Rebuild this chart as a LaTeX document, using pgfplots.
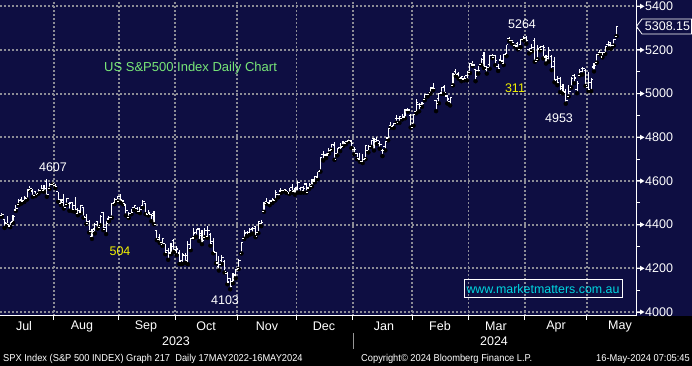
\documentclass[border=0pt]{standalone}
\usepackage{pgfplots}
\pgfplotsset{compat=1.18}
\usepackage{pgfplotstable}
\usepackage{fontspec}
\setmainfont{Liberation Sans}
\newfontfamily\narrowfont[FakeStretch=0.93]{Liberation Sans}
\definecolor{bgnavy}{RGB}{14,14,66}
\definecolor{gridgray}{RGB}{140,140,150}
\definecolor{titlegreen}{RGB}{120,230,120}
\definecolor{annyellow}{RGB}{240,240,0}
\definecolor{urlcyan}{RGB}{0,215,225}
\definecolor{sepgray}{RGB}{150,150,150}

\pgfdeclareplotmark{otick}{\pgfpathmoveto{\pgfqpoint{-\pgfplotmarksize}{0pt}}\pgfpathlineto{\pgfqpoint{0pt}{0pt}}\pgfusepathqstroke}
\pgfdeclareplotmark{ctick}{\pgfpathmoveto{\pgfqpoint{0pt}{0pt}}\pgfpathlineto{\pgfqpoint{\pgfplotmarksize}{0pt}}\pgfusepathqstroke}

\pgfplotstableread{
i o h l c
0 4422 4458 4422 4450.4
1 4450 4456 4442 4455.6
2 4442 4454 4436 4446.8
3 4422 4423 4385 4411.6
4 4404 4441 4397 4399.0
5 4394 4412 4389 4409.5
6 4415 4443 4408 4439.3
7 4467 4488 4463 4472.2
8 4491 4517 4490 4510.0
9 4514 4528 4497 4505.4
10 4509 4532 4504 4522.8
11 4521 4562 4515 4555.0
12 4563 4578 4557 4565.7
13 4554 4565 4527 4534.9
14 4550 4555 4532 4536.3
15 4543 4564 4542 4554.6
16 4555 4580 4553 4567.5
17 4558 4583 4550 4566.8
18 4598 4607 4528 4537.4
19 4565 4590 4564 4582.2
20 4584 4595 4584 4589.0
21 4578 4584 4568 4576.7
22 4550 4551 4505 4513.4
23 4495 4519 4490 4501.9
24 4513 4540 4474 4478.0
25 4491 4520 4491 4518.4
26 4498 4504 4464 4499.4
27 4501 4503 4462 4467.7
28 4487 4528 4458 4468.8
29 4450 4476 4443 4464.1
30 4458 4490 4453 4489.7
31 4479 4479 4432 4437.9
32 4433 4449 4403 4404.3
33 4416 4421 4364 4370.4
34 4344 4381 4335 4369.7
35 4380 4407 4360 4399.8
36 4415 4419 4382 4387.6
37 4397 4443 4397 4436.0
38 4455 4458 4375 4376.3
39 4389 4418 4357 4405.7
40 4426 4440 4416 4433.3
41 4432 4500 4432 4497.6
42 4500 4522 4494 4514.9
43 4517 4532 4507 4507.7
44 4530 4541 4501 4515.8
45 4510 4514 4493 4496.8
46 4490 4491 4442 4465.5
47 4434 4457 4431 4451.1
48 4451 4473 4448 4457.5
49 4480 4490 4467 4487.5
50 4474 4479 4458 4461.9
51 4462 4479 4453 4467.4
52 4487 4511 4478 4505.1
53 4497 4497 4448 4450.3
54 4445 4467 4442 4453.5
55 4446 4451 4416 4444.0
56 4453 4462 4402 4402.2
57 4375 4376 4329 4330.0
58 4342 4357 4317 4320.1
59 4311 4338 4303 4337.4
60 4312 4313 4265 4273.5
61 4282 4293 4239 4274.5
62 4270 4318 4265 4299.7
63 4328 4334 4275 4288.1
64 4284 4300 4260 4288.4
65 4270 4282 4220 4229.5
66 4234 4268 4220 4263.8
67 4259 4268 4225 4258.2
68 4234 4324 4219 4308.5
69 4289 4341 4283 4335.7
70 4339 4385 4339 4358.2
71 4366 4378 4345 4377.0
72 4380 4386 4325 4349.6
73 4360 4377 4311 4327.8
74 4342 4383 4342 4373.6
75 4345 4394 4339 4373.2
76 4357 4364 4304 4314.6
77 4322 4339 4269 4278.0
78 4274 4277 4223 4224.2
79 4210 4255 4190 4217.0
80 4235 4259 4219 4247.7
81 4233 4236 4181 4186.8
82 4175 4183 4127 4137.2
83 4152 4157 4104 4117.4
84 4140 4177 4132 4166.8
85 4172 4195 4154 4193.8
86 4201 4245 4197 4237.9
87 4268 4318 4268 4317.8
88 4335 4374 4335 4358.3
89 4365 4372 4347 4366.0
90 4366 4387 4355 4378.4
91 4384 4391 4359 4382.8
92 4391 4393 4343 4347.4
93 4365 4415 4361 4415.2
94 4406 4421 4393 4411.6
95 4459 4503 4459 4495.7
96 4505 4521 4495 4502.9
97 4497 4511 4489 4508.2
98 4509 4521 4500 4514.0
99 4512 4557 4511 4547.4
100 4538 4542 4525 4538.2
101 4554 4568 4545 4556.6
102 4555 4561 4552 4559.3
103 4555 4561 4546 4550.4
104 4545 4568 4541 4554.9
105 4572 4588 4547 4550.6
106 4554 4570 4537 4567.8
107 4559 4599 4547 4594.6
108 4564 4572 4546 4569.8
109 4557 4579 4547 4567.2
110 4586 4591 4547 4549.3
111 4568 4590 4564 4585.6
112 4576 4609 4575 4604.4
113 4600 4623 4594 4622.4
114 4618 4643 4608 4643.7
115 4646 4709 4643 4707.1
116 4721 4739 4694 4719.6
117 4719 4726 4705 4719.2
118 4726 4749 4725 4740.6
119 4744 4769 4743 4768.4
120 4764 4779 4697 4698.4
121 4724 4749 4717 4746.8
122 4754 4772 4737 4754.6
123 4759 4784 4759 4774.8
124 4773 4785 4768 4781.6
125 4787 4793 4780 4783.4
126 4782 4788 4751 4769.8
127 4745 4755 4722 4742.8
128 4726 4730 4700 4704.8
129 4697 4727 4688 4688.7
130 4690 4722 4682 4697.2
131 4703 4764 4700 4763.5
132 4741 4765 4731 4756.5
133 4760 4790 4756 4783.5
134 4793 4798 4740 4780.2
135 4792 4803 4770 4783.8
136 4772 4783 4748 4766.0
137 4740 4745 4714 4739.2
138 4760 4782 4740 4780.9
139 4797 4843 4786 4839.8
140 4853 4868 4844 4850.4
141 4856 4866 4843 4864.6
142 4888 4903 4866 4868.6
143 4887 4899 4866 4894.2
144 4888 4906 4882 4891.0
145 4893 4929 4887 4927.9
146 4925 4932 4917 4925.0
147 4900 4907 4845 4845.7
148 4862 4907 4853 4906.2
149 4917 4975 4910 4958.6
150 4951 4957 4919 4942.8
151 4951 4963 4940 4954.2
152 4973 5000 4970 4995.1
153 4995 5000 4987 4997.9
154 5004 5030 5000 5026.6
155 5026 5048 5016 5021.8
156 4968 4971 4920 4953.2
157 4976 5002 4956 5000.6
158 5003 5032 4999 5029.7
159 5032 5039 4999 5005.6
160 4989 4994 4955 4975.5
161 4964 4983 4946 4981.8
162 5039 5094 5038 5087.0
163 5100 5111 5081 5088.8
164 5093 5097 5069 5069.5
165 5074 5081 5057 5078.2
166 5067 5081 5061 5069.8
167 5085 5105 5061 5096.3
168 5098 5140 5094 5137.1
169 5131 5149 5128 5131.0
170 5110 5115 5057 5078.7
171 5108 5128 5092 5104.8
172 5133 5165 5131 5157.4
173 5173 5189 5117 5123.7
174 5111 5125 5092 5117.9
175 5135 5179 5114 5175.3
176 5174 5180 5163 5165.3
177 5175 5179 5130 5150.5
178 5124 5136 5104 5117.1
179 5154 5176 5145 5149.4
180 5140 5180 5131 5178.5
181 5182 5225 5172 5224.6
182 5253 5261 5240 5241.5
183 5242 5247 5229 5234.2
184 5219 5229 5216 5218.2
185 5228 5236 5203 5203.6
186 5226 5249 5213 5248.5
187 5249 5265 5245 5254.4
188 5257 5263 5229 5243.8
189 5204 5208 5184 5205.8
190 5194 5229 5194 5211.5
191 5245 5256 5146 5147.2
192 5158 5222 5157 5204.3
193 5211 5219 5198 5202.4
194 5217 5224 5161 5209.9
195 5168 5179 5138 5160.6
196 5172 5212 5147 5199.1
197 5171 5175 5108 5123.4
198 5149 5168 5052 5061.8
199 5064 5079 5039 5051.4
200 5068 5077 5007 5022.2
201 5032 5046 5001 5011.1
202 5006 5019 4954 4967.2
203 4988 5039 4987 5010.6
204 5028 5077 5028 5070.6
205 5085 5089 5048 5071.6
206 5020 5057 5002 5048.4
207 5084 5114 5084 5100.0
208 5114 5124 5088 5116.2
209 5104 5111 5035 5035.7
210 5030 5097 5012 5018.4
211 5050 5073 5012 5064.2
212 5122 5139 5102 5127.8
213 5142 5181 5142 5180.7
214 5187 5201 5181 5187.7
215 5168 5191 5166 5187.7
216 5190 5214 5182 5214.1
217 5225 5240 5207 5222.7
218 5234 5237 5206 5221.4
219 5222 5251 5220 5246.7
220 5263 5311 5263 5308.2
}\ohlc

\begin{document}
\begin{tikzpicture}
\useasboundingbox (0pt,-50pt) rectangle (692pt,316pt);
\fill[black] (0pt,-50pt) rectangle (692pt,316pt);
\fill[bgnavy] (0pt,0pt) rectangle (692pt,316pt);
\begin{axis}[
  at={(0pt,0pt)}, anchor=south west,
  width=636pt, height=316pt, scale only axis,
  xmin=1.383, xmax=226.9, ymin=3981.7, ymax=5428.9,
  axis x line*=bottom, axis y line*=right,
  axis line style={white, line width=1pt},
  xtick={20.5,43.5,63.5,85.5,106.5,126.5,147.5,167.5,187.5,209.5},
  ytick={4000,4200,4400,4600,4800,5000,5200,5400},
  minor ytick={4100,4300,4500,4700,4900,5100,5300},
  xticklabels={}, yticklabels={},
  tick align=outside, major tick length=4pt, minor tick length=4pt,
  tick style={white, line width=1pt},
  grid=major,
  major grid style={draw=gridgray, line width=1.8pt, dash pattern=on 2pt off 2pt},
  clip mode=individual,
]
\addplot[only marks, mark=none, error bars/.cd, y dir=plus, y explicit, error mark=none,
  error bar style={draw=white, line width=1.1pt, solid}]
  table[x=i, y=l, y error expr=\thisrow{h}-\thisrow{l}] {\ohlc};
\addplot[only marks, mark=otick, mark size=1.9pt, white, mark options={line width=1.1pt, solid}]
  table[x=i, y=o] {\ohlc};
\addplot[only marks, mark=ctick, mark size=1.9pt, white, mark options={line width=1.1pt, solid}]
  table[x=i, y=c] {\ohlc};
\pgfplotsinvokeforeach{4000,4200,4400,4600,4800,5000,5200,5400}{
  \fill[white] (axis cs:226.9,#1) ++(0pt,-0.6pt) -- ++(4pt,0pt) -- ++(0pt,-2pt) -- ++(4.5pt,2.6pt) -- ++(-4.5pt,2.6pt) -- ++(0pt,-2pt) -- ++(-4pt,0pt) -- cycle;
  \node[anchor=west, text=white, inner sep=0pt, font=\fontsize{12.5}{14}\selectfont] at ([xshift=9pt]axis cs:226.9,#1) {#1};
}
\end{axis}
% last price box
\draw[white, line width=0.8pt, fill=bgnavy] (636.5pt,289.6pt) -- (642pt,297pt) -- (691.6pt,297pt) -- (691.6pt,282pt) -- (642pt,282pt) -- cycle;
\node[text=white, inner sep=0pt, font=\fontsize{12.5}{14}\selectfont] at (667.5pt,289.5pt) {5308.15};
% annotations
\node[text=titlegreen, anchor=west, inner sep=0pt, font=\fontsize{13}{15}\selectfont] at (104pt,248pt) {US S\&P500 Index Daily Chart};
\begin{scope}[every node/.style={inner sep=0pt, font=\fontsize{12.5}{14}\selectfont}]
\node[text=white] at (53pt,149pt) {4607};
\node[text=annyellow] at (120pt,65pt) {504};
\node[text=white] at (225pt,16pt) {4103};
\node[text=white] at (522pt,292pt) {5264};
\node[text=annyellow] at (515pt,228pt) {311};
\node[text=white] at (559pt,198pt) {4953};
\end{scope}
\draw[white, line width=1pt] (464pt,18pt) rectangle (622pt,36pt);
\node[text=urlcyan, inner sep=0pt, font=\fontsize{12.4}{14}\selectfont] at (543pt,27pt) {www.marketmatters.com.au};
% month labels
\begin{scope}[every node/.style={text=white, inner sep=0pt, font=\fontsize{12.5}{14}\selectfont}]
\node at (24pt,-10pt) {Jul};
\node at (82pt,-10pt) {Aug};
\node at (146pt,-10pt) {Sep};
\node at (206pt,-10pt) {Oct};
\node at (267pt,-10pt) {Nov};
\node at (324pt,-10pt) {Dec};
\node at (384pt,-10pt) {Jan};
\node at (440pt,-10pt) {Feb};
\node at (496pt,-10pt) {Mar};
\node at (556pt,-10pt) {Apr};
\node at (620pt,-10pt) {May};
\node at (176pt,-25pt) {2023};
\node at (494pt,-25pt) {2024};
\end{scope}
\draw[sepgray, line width=1pt] (353pt,-17pt) -- (353pt,-33pt);
% footer
\begin{scope}[every node/.style={text=white, inner sep=0pt, font=\narrowfont\fontsize{10}{12}\selectfont}]
\node[anchor=west] at (3pt,-43pt) {SPX Index (S\&P 500 INDEX) Graph 217\ \ Daily 17MAY2022-16MAY2024};
\node[anchor=west] at (361pt,-43pt) {Copyright© 2024 Bloomberg Finance L.P.};
\node[anchor=east] at (690pt,-43pt) {16-May-2024 07:05:45};
\end{scope}
\end{tikzpicture}
\end{document}
